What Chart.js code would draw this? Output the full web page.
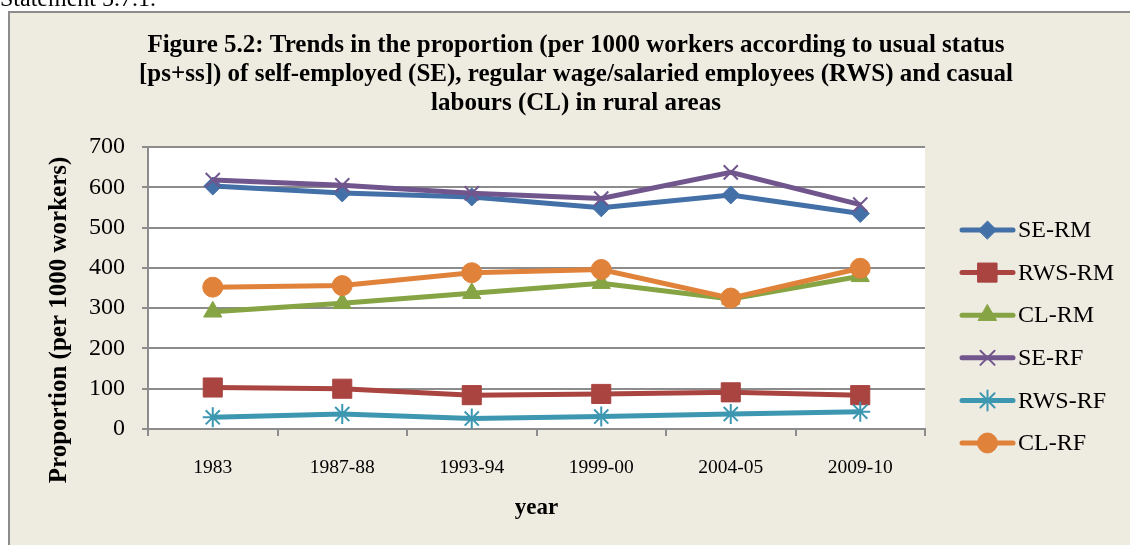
<!DOCTYPE html>
<html>
<head>
<meta charset="utf-8">
<script src="https://cdn.jsdelivr.net/npm/chart.js@4.4.1/dist/chart.umd.min.js"></script>
<style>
  html, body { margin: 0; padding: 0; background: #ffffff; overflow: hidden; }
  #wrap { position: relative; width: 1130px; height: 545px; }
  canvas { display: block; }
</style>
</head>
<body>
<div id="wrap"><canvas id="c" width="1130" height="545"></canvas></div>
<script>
// ---- data ----
const categories = ["1983", "1987-88", "1993-94", "1999-00", "2004-05", "2009-10"];
const seRM  = [603, 586, 576, 549, 581, 535];
const rwsRM = [103, 100, 84, 87, 91, 84];
const clRM  = [291, 312, 337, 362, 323, 379];
const seRF  = [618, 605, 585, 572, 637, 557];
const rwsRF = [29, 37, 26, 31, 37, 43];
const clRF  = [352, 356, 388, 396, 325, 399];
const seriesNames = ["SE-RM", "RWS-RM", "CL-RM", "SE-RF", "RWS-RF", "CL-RF"];
const yTicks = [0, 100, 200, 300, 400, 500, 600, 700];
const titleLines = [
  "Figure 5.2: Trends in the proportion (per 1000 workers according to usual status",
  "[ps+ss]) of self-employed (SE), regular wage/salaried employees (RWS) and casual",
  "labours (CL) in rural areas"
];
const yTitle = "Proportion (per 1000 workers)";
const xTitle = "year";
const pageText = "Statement 5.7.1.";

const SERIF = "'Liberation Serif', 'Times New Roman', serif";
const styles = [
  { color: "#4470A8", point: "rectRot",  radius: 9,    pbw: 1 },
  { color: "#A94440", point: "rect",     radius: 13.5, pbw: 1 },
  { color: "#86A443", point: "triangle", radius: 10.5, pbw: 1 },
  { color: "#71568E", point: "crossRot", radius: 10,   pbw: 2 },
  { color: "#3D97B0", point: "star",     radius: 10,   pbw: 2 },
  { color: "#E0823A", point: "circle",   radius: 10,   pbw: 1 }
];
const values = [seRM, rwsRM, clRM, seRF, rwsRF, clRF];

const datasets = values.map((v, i) => ({
  label: seriesNames[i],
  data: v,
  borderColor: styles[i].color,
  backgroundColor: styles[i].color,
  borderWidth: 5,
  pointStyle: styles[i].point,
  pointRadius: styles[i].radius,
  pointHoverRadius: styles[i].radius,
  pointBackgroundColor: styles[i].color,
  pointBorderColor: styles[i].color,
  pointBorderWidth: styles[i].pbw,
  tension: 0,
  order: values.length - i
}));

const decorPlugin = {
  id: "decor",
  beforeDraw(chart) {
    const ctx = chart.ctx;
    const ca = chart.chartArea;
    ctx.save();
    ctx.fillStyle = "#ffffff";
    ctx.fillRect(0, 0, chart.width, chart.height);
    // page text (cut off at top)
    ctx.fillStyle = "#000";
    ctx.font = "24px " + SERIF;
    ctx.textBaseline = "alphabetic";
    ctx.textAlign = "left";
    ctx.fillText(pageText, 0, 6);
    // chart box
    ctx.fillStyle = "#EEEBE0";
    ctx.fillRect(9, 12, chart.width + 20, chart.height + 20);
    ctx.strokeStyle = "#8C8C8C";
    ctx.lineWidth = 2;
    ctx.strokeRect(9, 12, chart.width + 20, chart.height + 20);
    // plot area
    ctx.fillStyle = "#ffffff";
    ctx.fillRect(ca.left, ca.top, ca.right - ca.left, ca.bottom - ca.top);
    // title
    ctx.fillStyle = "#000";
    ctx.font = "bold 25px " + SERIF;
    ctx.textAlign = "center";
    ctx.textBaseline = "middle";
    titleLines.forEach((t, i) => ctx.fillText(t, 576, 46 + i * 29));
    // y title
    ctx.save();
    ctx.translate(60, 320);
    ctx.rotate(-Math.PI / 2);
    ctx.font = "bold 25px " + SERIF;
    ctx.fillText(yTitle, 0, 0);
    ctx.restore();
    // x title
    ctx.font = "bold 23px " + SERIF;
    ctx.fillText(xTitle, (ca.left + ca.right) / 2, 508);
    ctx.restore();
  },
  afterDraw(chart) {
    const ctx = chart.ctx;
    ctx.save();
    const x0 = 962, x1 = 1013, xt = 1018;
    chart.data.datasets.forEach((ds, i) => {
      const y = 230 + i * 42.6;
      ctx.strokeStyle = ds.borderColor;
      ctx.lineWidth = 5;
      ctx.lineCap = "round";
      ctx.beginPath();
      ctx.moveTo(x0, y);
      ctx.lineTo(x1, y);
      ctx.stroke();
      ctx.fillStyle = ds.pointBackgroundColor;
      ctx.strokeStyle = ds.pointBorderColor;
      ctx.lineWidth = ds.pointBorderWidth;
      Chart.helpers.drawPoint(ctx, { pointStyle: ds.pointStyle, radius: ds.pointRadius, rotation: 0, borderWidth: ds.pointBorderWidth }, (x0 + x1) / 2, y);
      ctx.fillStyle = "#000";
      ctx.font = "24px " + SERIF;
      ctx.textAlign = "left";
      ctx.textBaseline = "middle";
      ctx.fillText(ds.label, xt, y + 1);
    });
    ctx.restore();
  }
};

new Chart(document.getElementById("c"), {
  type: "line",
  data: { labels: categories, datasets },
  options: {
    responsive: false,
    animation: false,
    layout: { padding: { left: 88, top: 147, right: 205, bottom: 46 } },
    plugins: { legend: { display: false }, title: { display: false }, tooltip: { enabled: false } },
    scales: {
      x: {
        type: "category",
        offset: true,
        afterFit: (s) => { s.height = 70; },
        grid: { offset: true, drawOnChartArea: false, drawTicks: true, tickLength: 7, color: "#8C8C8C", lineWidth: 2 },
        border: { display: true, color: "#8C8C8C", width: 2 },
        ticks: { color: "#000", font: { family: SERIF, size: 19.5 }, padding: 20, maxRotation: 0 }
      },
      y: {
        min: 0, max: 700,
        afterFit: (s) => { s.width = 60; },
        afterBuildTicks: (s) => { s.ticks = yTicks.map(v => ({ value: v })); },
        grid: { drawOnChartArea: true, drawTicks: true, tickLength: 6, color: "#8C8C8C", lineWidth: 2 },
        border: { display: true, color: "#8C8C8C", width: 2 },
        ticks: { color: "#000", font: { family: SERIF, size: 24 }, padding: 17 }
      }
    }
  },
  plugins: [decorPlugin]
});
</script>
</body>
</html>
